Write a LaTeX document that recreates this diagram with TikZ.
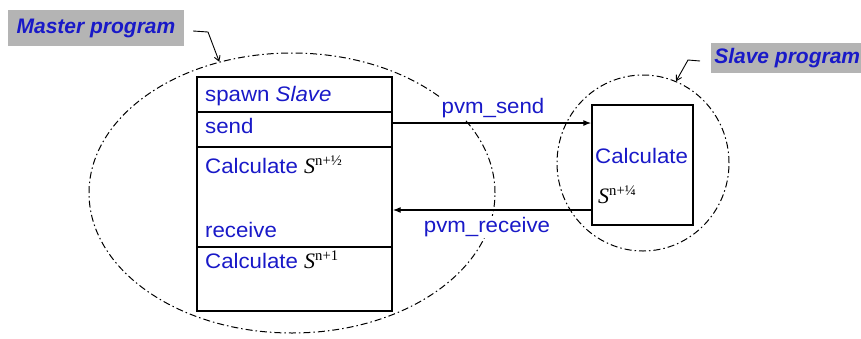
\documentclass[tikz,border=0pt]{standalone}
\usepackage{fontspec}
\setmainfont{Liberation Sans}
\newfontfamily\bodyfont[FakeStretch=1.06]{Liberation Sans}
\newfontfamily\serifS{Liberation Serif}
\usetikzlibrary{arrows.meta,shapes.geometric}
\definecolor{tblue}{RGB}{25,25,200}
\definecolor{lgray}{RGB}{180,180,180}
\newcommand\Sx[1]{{\color{black}\serifS\itshape\fontsize{22}{24}\selectfont S}\textsuperscript{\color{black}\serifS n+#1}}
\begin{document}
\begin{tikzpicture}[x=1pt,y=-1pt,
  txt/.style={text=tblue, font=\bodyfont\fontsize{21}{24}\selectfont, inner sep=0pt, anchor=base west},
  row/.style={draw, line width=1.3pt, fill=white, minimum width=195pt, inner sep=0pt},
  dd/.style={line width=1pt, dash pattern=on 7pt off 3pt on 1.5pt off 3pt},
  arr/.style={line width=1.3pt, -{Latex[length=8pt,width=6pt]}},
  lab/.style={fill=lgray, text=tblue, font=\fontsize{21}{24}\selectfont\bfseries\itshape, inner sep=0pt},
  call/.style={line width=0.9pt, -{Straight Barb[length=5pt,width=6pt]}},
  flow/.style={fill=white, text=tblue, font=\bodyfont\fontsize{21}{24}\selectfont, inner sep=1pt}]

\useasboundingbox (0,0) rectangle (861,338);
\fill[white] (0,0) rectangle (861,338);

% enclosing dash-dot outlines
\node[ellipse, draw, dd, minimum width=406pt, minimum height=280pt, inner sep=0pt] (mell) at (292,193) {};
\node[ellipse, draw, dd, minimum width=172pt, minimum height=176pt, inner sep=0pt] (sell) at (643,163) {};

% master program table
\node[row, minimum height=35pt] (spawn) at (294.5,94.5) {};
\node[row, minimum height=35pt] (send) at (294.5,129.5) {};
\node[row, minimum height=100pt] (mid) at (294.5,197) {};
\node[row, minimum height=64pt] (last) at (294.5,279) {};

% slave box
\node[draw, line width=1.3pt, fill=white, minimum width=101pt, minimum height=120pt, inner sep=0pt] (srect) at (642.5,165) {};

% texts
\node[txt] (t1) at (205,101) {spawn \textit{Slave}};
\node[txt] (t2) at (205,133) {send};
\node[txt] (t3) at (205,173) {Calculate \Sx{½}};
\node[txt] (t4) at (205,237) {receive};
\node[txt] (t5) at (205,268) {Calculate \Sx{1}};
\node[txt] (t6) at (595,163) {Calculate};
\node[txt] (t7) at (598,203) {\Sx{¼}};

% messages
\draw[arr] (send.east |- 0,123) -- (srect.west |- 0,123);
\draw[arr] (srect.west |- 0,210) -- (mid.east |- 0,210);
\node[flow] (ps) at (493,108) {pvm\_send};
\node[flow] (pr) at (487,227) {pvm\_receive};

% labels
\node[lab, minimum width=176pt, minimum height=36pt] (ml) at (96,28) {Master program};
\node[lab, anchor=west, minimum height=30pt, minimum width=152pt] (sl) at (711,58) {Slave program};

\draw[call] ([xshift=9pt,yshift=-3pt]ml.east) -- (208,32) -- (mell.119);
\draw[call] ([xshift=-11pt,yshift=-3pt]sl.west) -- (688,60) -- (sell.68);
\end{tikzpicture}
\end{document}
